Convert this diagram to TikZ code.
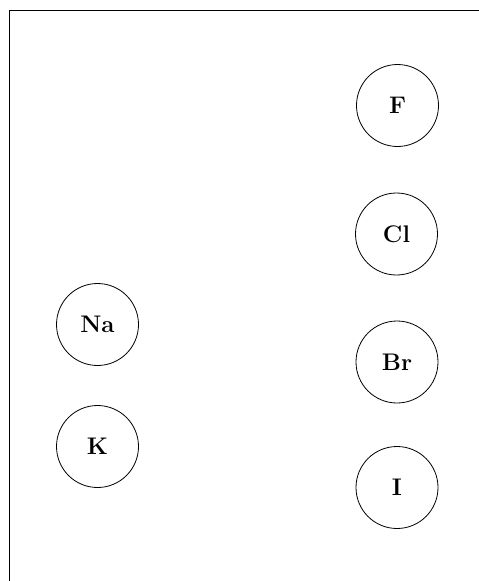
\documentclass[tikz,border=0pt]{standalone}
\usepackage{fontspec}
\usepackage{tikz}
\usetikzlibrary{positioning}

\begin{document}
\begin{tikzpicture}[
  x=1pt, y=-1pt,
  atom/.style={circle, draw, line width=0.8pt, minimum size=82pt, inner sep=0pt, font=\fontsize{24}{28}\selectfont\bfseries},
  frame/.style={draw, line width=1.4pt}
]
\useasboundingbox (0,0) rectangle (479,581);

% Outer frame
\draw[frame] (9.5,10.5) rectangle (520,620);

% Metals
\node[atom] (na) at (97.5,324.5) {Na};
\node[atom] (k) at (97.5,446.5) {K};

% Halogens
\node[atom] (f) at (397.5,105.5) {F};
\node[atom] (cl) at (396.5,234) {Cl};
\node[atom] (br) at (397,362) {Br};
\node[atom] (i) at (397,487.5) {I};

\end{tikzpicture}
\end{document}
